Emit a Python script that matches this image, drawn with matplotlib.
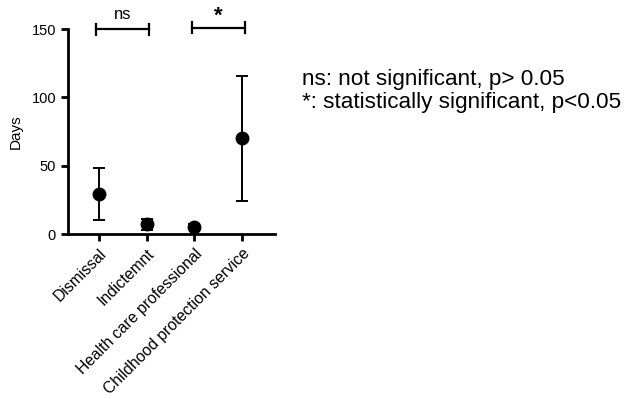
import numpy as np
import matplotlib
matplotlib.use("Agg")
from matplotlib import pyplot as plt

plt.rcParams['font.family'] = ['Liberation Sans', 'DejaVu Sans']

categories = ["Dismissal", "Indictemnt", "Health care professional", "Childhood protection service"]
means = [29, 7, 5.5, 70]
lower = [10.5, 3, 4, 24]
upper = [48, 11, 7, 116]

# significance brackets: (start index, end index, label)
brackets = [(0, 1, "ns"), (2, 3, "*")]
bracket_y = [150, 151]

x = np.arange(len(categories))
means_arr = np.array(means)
yerr = [means_arr - np.array(lower), np.array(upper) - means_arr]

fig = plt.figure(figsize=(6.28, 3.99), dpi=100)
ax = fig.add_axes([0.108, 0.4135, 0.330, 0.5135])

ax.errorbar(x, means, yerr=yerr, fmt="o", color="black", markersize=9,
            capsize=4.5, elinewidth=1.4, capthick=1.4, clip_on=False, zorder=3)

for (a, b, lab), yb in zip(brackets, bracket_y):
    x0, x1 = x[a] - 0.05, x[b] + 0.06
    ax.plot([x0, x1], [yb, yb], color="black", lw=1.6, clip_on=False)
    ax.plot([x0, x0], [yb - 4, yb + 4], color="black", lw=1.6, clip_on=False)
    ax.plot([x1, x1], [yb - 4, yb + 4], color="black", lw=1.6, clip_on=False)
    if lab == "*":
        ax.text((x0 + x1) / 2, yb + 1, lab, ha="center", va="bottom",
                fontsize=16, fontweight="bold")
    else:
        ax.text((x0 + x1) / 2, yb + 5, lab, ha="center", va="bottom", fontsize=12)

ax.set_xlim(-0.65, 3.69)
ax.set_ylim(0, 150)
ax.set_yticks([0, 50, 100, 150])
ax.set_xticks(x)
ax.set_xticklabels(categories, rotation=45, ha="right", rotation_mode="anchor", fontsize=11.3)
ax.tick_params(axis="y", labelsize=10.5, width=2, length=5)
ax.tick_params(axis="x", width=2, length=5)
ax.set_ylabel("Days", fontsize=11, labelpad=6)

for side in ["top", "right"]:
    ax.spines[side].set_visible(False)
for side in ["left", "bottom"]:
    ax.spines[side].set_linewidth(2)

fig.text(0.481, 0.80, "ns: not significant, p> 0.05", fontsize=16.2, va="center")
fig.text(0.481, 0.742, "*: statistically significant, p<0.05", fontsize=16.2, va="center")

fig.savefig("out.png", dpi=100)
plt.close()
